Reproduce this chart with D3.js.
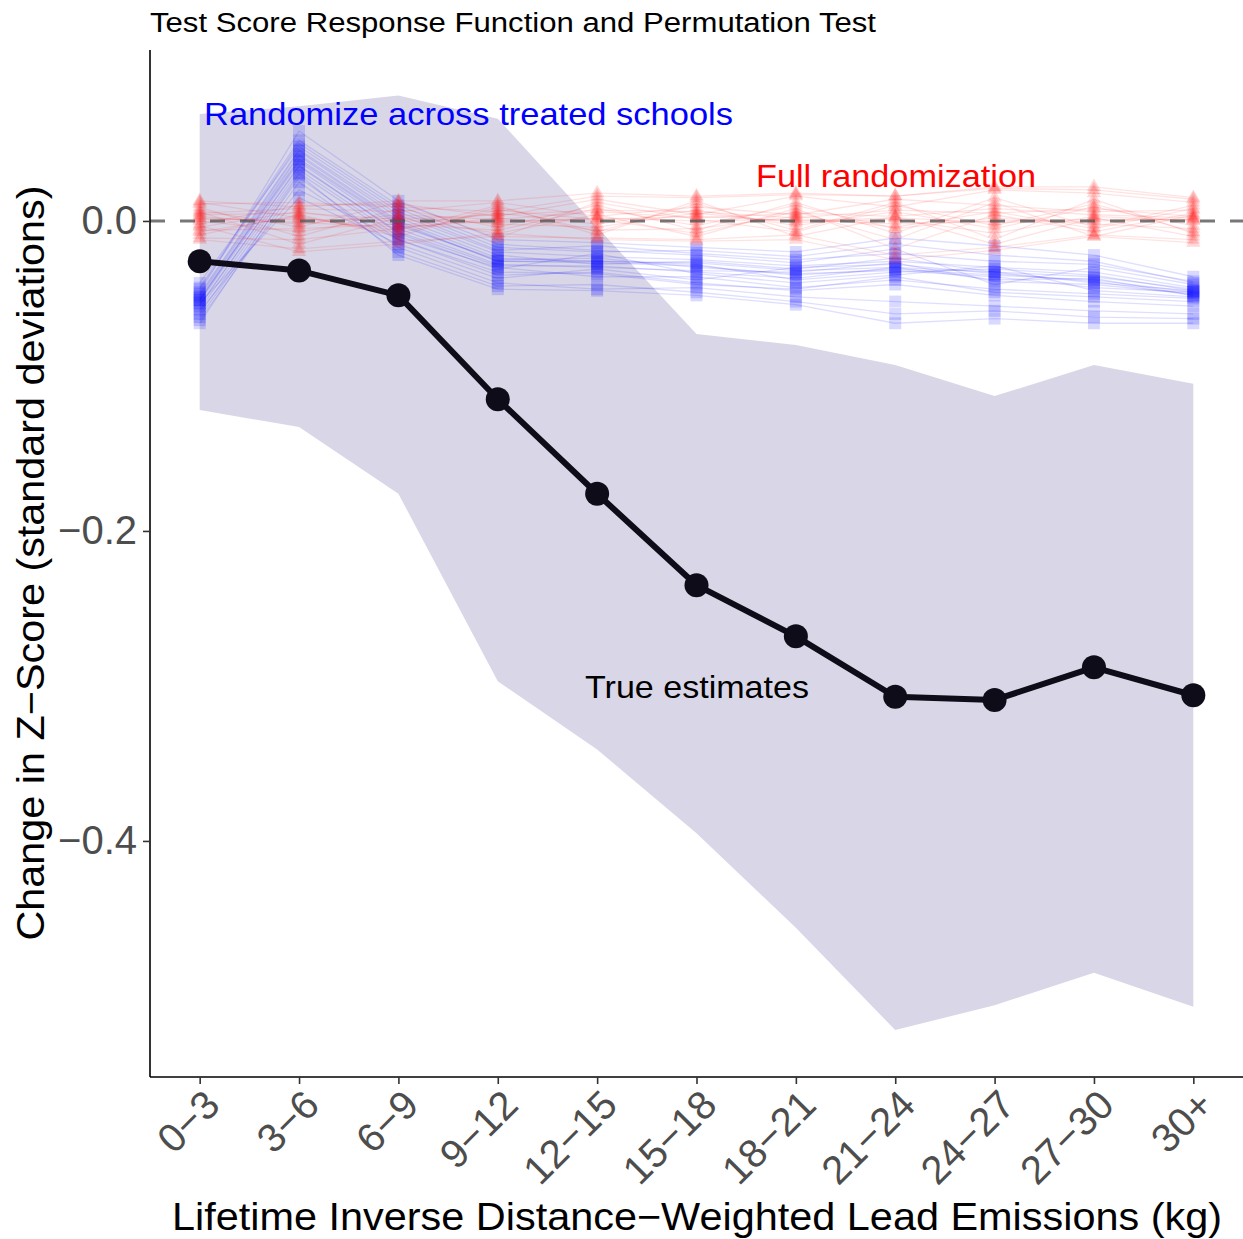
<!DOCTYPE html>
<html>
<head>
<meta charset="utf-8">
<script src="https://cdn.jsdelivr.net/npm/d3@7"></script>
<style>
  body { margin: 0; background: #fff; }
  text { font-family: "Liberation Sans", Arial, Helvetica, sans-serif; }
</style>
</head>
<body>
<svg id="chart" width="1243" height="1239"></svg>
<script>
// bins of lifetime lead exposure
var categories = ["0\u22123", "3\u22126", "6\u22129", "9\u221212", "12\u221215", "15\u221218",
                  "18\u221221", "21\u221224", "24\u221227", "27\u221230", "30+"];

// true estimates and 95% band
var estimates = [-0.026, -0.032, -0.048, -0.115, -0.176, -0.235, -0.268, -0.307, -0.309, -0.288, -0.306];
var bandUpper = [0.069, 0.074, 0.081, 0.066, -0.004, -0.073, -0.080, -0.093, -0.113, -0.093, -0.105];
var bandLower = [-0.122, -0.133, -0.176, -0.297, -0.341, -0.395, -0.456, -0.522, -0.506, -0.485, -0.507];

// permutation draws: randomize across treated schools
var blueRuns = [
  [-0.048, 0.045, 0.002, -0.022, -0.028, -0.026, -0.031, -0.024, -0.033, -0.036, -0.044],
  [-0.055, 0.036, -0.008, -0.031, -0.021, -0.034, -0.040, -0.035, -0.029, -0.045, -0.049],
  [-0.043, 0.052, 0.010, -0.015, -0.019, -0.022, -0.027, -0.018, -0.041, -0.030, -0.041],
  [-0.060, 0.031, -0.012, -0.035, -0.033, -0.040, -0.045, -0.041, -0.048, -0.052, -0.055],
  [-0.051, 0.040, -0.002, -0.026, -0.027, -0.029, -0.035, -0.031, -0.035, -0.038, -0.046],
  [-0.046, 0.058, 0.013, -0.012, -0.014, -0.017, -0.020, -0.011, -0.016, -0.022, -0.036],
  [-0.064, 0.025, -0.020, -0.042, -0.041, -0.046, -0.052, -0.060, -0.058, -0.062, -0.063],
  [-0.052, 0.038, -0.005, -0.028, -0.030, -0.032, -0.033, -0.027, -0.039, -0.041, -0.047],
  [-0.049, 0.043, 0.000, -0.024, -0.026, -0.028, -0.038, -0.033, -0.031, -0.035, -0.045],
  [-0.057, 0.033, -0.010, -0.030, -0.036, -0.036, -0.043, -0.038, -0.044, -0.047, -0.050],
  [-0.040, 0.048, 0.006, -0.019, -0.016, -0.021, -0.025, -0.021, -0.026, -0.028, -0.039],
  [-0.053, 0.015, -0.015, -0.037, -0.031, -0.038, -0.030, -0.028, -0.034, -0.039, -0.048],
  [-0.050, 0.039, -0.003, -0.025, -0.024, -0.030, -0.034, -0.032, -0.036, -0.043, -0.046],
  [-0.062, 0.028, -0.017, -0.040, -0.044, -0.043, -0.049, -0.052, -0.055, -0.058, -0.060],
  [-0.047, 0.046, 0.004, -0.020, -0.023, -0.025, -0.029, -0.026, -0.030, -0.033, -0.043],
  [-0.054, 0.035, -0.007, -0.029, -0.029, -0.033, -0.037, -0.030, -0.038, -0.037, -0.048],
  [-0.044, 0.050, 0.008, -0.017, -0.020, -0.019, -0.023, -0.015, -0.022, -0.026, -0.040],
  [-0.058, 0.020, -0.012, -0.033, -0.034, -0.041, -0.044, -0.036, -0.046, -0.049, -0.052],
  [-0.051, 0.042, -0.001, -0.026, -0.026, -0.027, -0.032, -0.030, -0.033, -0.040, -0.045],
  [-0.066, 0.030, -0.022, -0.044, -0.045, -0.048, -0.054, -0.066, -0.063, -0.066, -0.066]
];

// permutation draws: full randomization
var redRuns = [
  [0.003, -0.002, 0.004, 0.001, 0.006, 0.002, 0.005, 0.003, 0.008, 0.004, 0.002],
  [-0.004, 0.006, -0.003, 0.005, -0.002, 0.007, -0.003, 0.006, -0.005, 0.009, -0.003],
  [0.009, -0.010, 0.008, -0.004, 0.010, -0.006, 0.012, -0.008, 0.015, -0.004, 0.010],
  [-0.009, 0.004, -0.010, 0.009, -0.007, 0.011, -0.006, 0.012, -0.012, 0.014, -0.008],
  [0.001, 0.001, 0.000, -0.001, 0.002, 0.000, 0.001, -0.002, 0.000, 0.001, 0.001],
  [0.006, -0.015, 0.002, -0.008, 0.004, -0.010, 0.008, -0.018, 0.004, -0.007, 0.005],
  [-0.002, 0.010, 0.011, 0.003, 0.014, 0.004, 0.016, 0.009, 0.020, 0.018, 0.012],
  [0.012, 0.002, -0.006, 0.010, -0.009, 0.013, -0.010, 0.003, -0.015, 0.002, -0.010],
  [-0.012, -0.018, -0.013, -0.010, -0.011, -0.012, -0.009, -0.022, -0.017, -0.009, -0.012],
  [0.005, 0.008, 0.006, 0.012, 0.003, 0.009, 0.004, 0.014, 0.010, 0.006, 0.007],
  [-0.006, -0.005, -0.002, -0.006, 0.008, -0.003, 0.010, -0.005, 0.002, -0.002, -0.005],
  [0.011, 0.012, 0.009, 0.006, 0.016, 0.015, 0.017, 0.016, 0.021, 0.020, 0.014],
  [0.000, -0.007, 0.003, -0.002, -0.004, 0.005, -0.001, 0.001, -0.008, 0.003, 0.000],
  [-0.007, 0.003, -0.008, 0.007, 0.001, -0.008, 0.006, -0.012, 0.012, -0.010, 0.004],
  [0.007, -0.004, 0.012, -0.011, 0.012, 0.001, -0.007, 0.010, -0.003, 0.011, -0.007],
  [-0.011, -0.012, -0.005, 0.002, -0.006, -0.005, 0.003, -0.004, 0.006, -0.005, 0.008],
  [0.004, 0.005, 0.001, 0.004, 0.007, 0.006, 0.002, 0.007, 0.005, 0.008, 0.003],
  [-0.003, -0.020, -0.015, -0.008, -0.012, -0.013, -0.012, -0.025, -0.019, -0.010, -0.014],
  [0.013, 0.009, 0.013, 0.013, 0.018, 0.016, 0.018, 0.016, 0.022, 0.022, 0.015],
  [0.002, -0.001, -0.004, 0.000, 0.001, 0.003, 0.000, 0.002, -0.001, 0.000, 0.001]
];

var yTicks = [0, -0.2, -0.4];

(function(){
  var padL = 150, padR = 1243, padT = 50, padB = 1077;
  var svg = d3.select("#chart");

  var x = d3.scalePoint().domain(categories).range([padL, padR]).padding(0.5);
  var y = d3.scaleLinear().domain([-0.5523, 0.1103]).range([padB, padT]);

  var rows = categories.map(function(c, i){
    return {cat: c, est: estimates[i], hi: bandUpper[i], lo: bandLower[i]};
  });

  // band
  svg.append("path")
    .datum(rows)
    .attr("fill", "#d9d7e7")
    .attr("d", d3.area()
      .x(function(d){ return x(d.cat); })
      .y0(function(d){ return y(d.lo); })
      .y1(function(d){ return y(d.hi); }));

  var runLine = d3.line()
    .x(function(d, i){ return x(categories[i]); })
    .y(function(d){ return y(d); });

  // blue permutation lines + squares
  var blueG = svg.append("g");
  blueG.selectAll("path").data(blueRuns).enter().append("path")
    .attr("d", runLine)
    .attr("fill", "none")
    .attr("stroke", "#0000ff")
    .attr("stroke-opacity", 0.13)
    .attr("stroke-width", 1.3);
  blueRuns.forEach(function(run){
    blueG.selectAll(null).data(run).enter().append("rect")
      .attr("x", function(d, i){ return x(categories[i]) - 6; })
      .attr("y", function(d){ return y(d) - 6; })
      .attr("width", 12)
      .attr("height", 12)
      .attr("fill", "#0000ff")
      .attr("fill-opacity", 0.15);
  });

  // red permutation lines + triangles
  var redG = svg.append("g");
  redG.selectAll("path.run").data(redRuns).enter().append("path")
    .attr("class", "run")
    .attr("d", runLine)
    .attr("fill", "none")
    .attr("stroke", "#ff0000")
    .attr("stroke-opacity", 0.11)
    .attr("stroke-width", 1.3);
  var tri = d3.symbol().type(d3.symbolTriangle).size(90);
  redRuns.forEach(function(run){
    redG.selectAll(null).data(run).enter().append("path")
      .attr("d", tri)
      .attr("transform", function(d, i){ return "translate(" + x(categories[i]) + "," + y(d) + ")"; })
      .attr("fill", "#ff0000")
      .attr("fill-opacity", 0.15);
  });

  // zero reference
  svg.append("line")
    .attr("x1", padL).attr("x2", padR)
    .attr("y1", y(0)).attr("y2", y(0))
    .attr("stroke", "#555")
    .attr("stroke-opacity", 0.8)
    .attr("stroke-width", 3)
    .attr("stroke-dasharray", "15,15");

  // true estimates
  svg.append("path")
    .datum(rows)
    .attr("fill", "none")
    .attr("stroke", "#0f0c1a")
    .attr("stroke-width", 6)
    .attr("stroke-linejoin", "round")
    .attr("d", d3.line().x(function(d){ return x(d.cat); }).y(function(d){ return y(d.est); }));
  svg.selectAll("circle.est").data(rows).enter().append("circle")
    .attr("class", "est")
    .attr("cx", function(d){ return x(d.cat); })
    .attr("cy", function(d){ return y(d.est); })
    .attr("r", 12)
    .attr("fill", "#0f0c1a");

  // axes
  var yAxis = svg.append("g")
    .attr("transform", "translate(" + padL + ",0)")
    .call(d3.axisLeft(y).tickValues(yTicks).tickSize(7).tickPadding(6)
      .tickFormat(d3.format(".1f")));
  var xAxis = svg.append("g")
    .attr("transform", "translate(0," + padB + ")")
    .call(d3.axisBottom(x).tickSize(7).tickFormat(""));

  [yAxis, xAxis].forEach(function(g){
    g.select(".domain").attr("stroke", "#000").attr("stroke-width", 1.6);
    g.selectAll(".tick line").attr("stroke", "#333").attr("stroke-width", 1.6);
  });
  // extend domains to the panel corner
  yAxis.select(".domain").attr("d", "M0," + padT + "V" + padB);
  xAxis.select(".domain").attr("d", "M" + padL + ",0H" + padR);

  yAxis.selectAll(".tick text")
    .attr("fill", "#4d4d4d")
    .attr("font-family", "'Liberation Sans', Arial, sans-serif")
    .attr("font-size", 40);

  categories.forEach(function(c){
    svg.append("text")
      .attr("transform", "translate(" + (x(c) + 2) + "," + (padB + 10) + ") rotate(-45)")
      .attr("text-anchor", "end")
      .attr("dy", "0.72em")
      .attr("fill", "#4d4d4d")
      .attr("font-size", 40)
      .text(c);
  });

  // titles and labels
  function label(txt, px, py, size, color, width){
    return svg.append("text")
      .attr("x", px).attr("y", py)
      .attr("font-size", size)
      .attr("fill", color)
      .attr("textLength", width)
      .attr("lengthAdjust", "spacingAndGlyphs")
      .text(txt);
  }
  label("Test Score Response Function and Permutation Test", 150, 32, 27, "#000", 726);
  label("Randomize across treated schools", 204, 125, 32, "#0000ff", 529);
  label("Full randomization", 756, 187, 32, "#ff0000", 280);
  label("True estimates", 585, 698, 32, "#000", 224);
  label("Lifetime Inverse Distance\u2212Weighted Lead Emissions (kg)", 172, 1230, 38, "#000", 1050);

  svg.append("text")
    .attr("transform", "translate(44,563) rotate(-90)")
    .attr("text-anchor", "middle")
    .attr("font-size", 38)
    .attr("fill", "#000")
    .attr("textLength", 755)
    .attr("lengthAdjust", "spacingAndGlyphs")
    .text("Change in Z\u2212Score (standard deviations)");
})();
</script>
</body>
</html>
